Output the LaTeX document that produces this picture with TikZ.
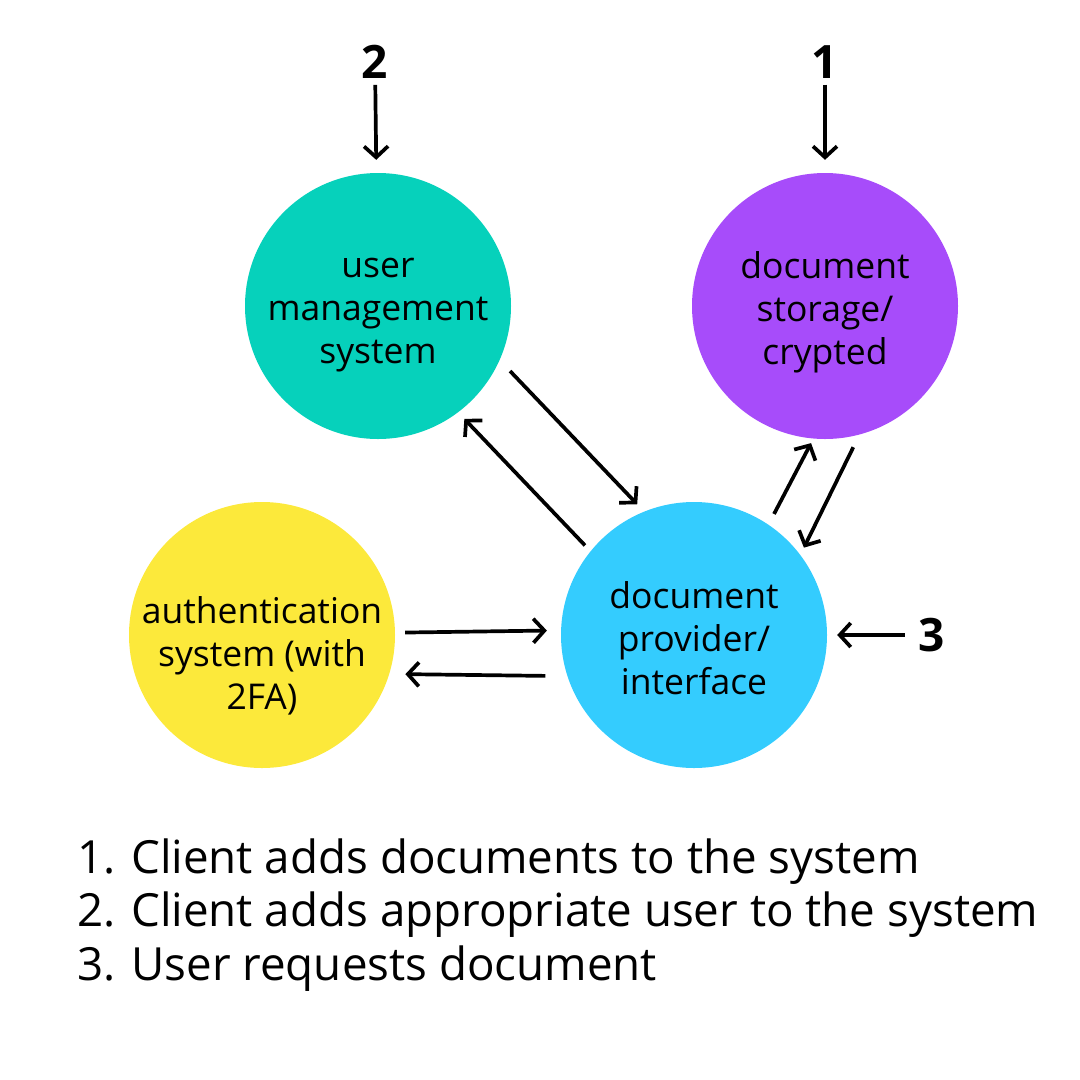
\documentclass[tikz,border=0pt]{standalone}
\usepackage{fontspec}
\setmainfont{Open Sans}
\usetikzlibrary{arrows.meta,positioning}
\definecolor{umteal}{HTML}{06D1BB}
\definecolor{dspurple}{HTML}{A74CFA}
\definecolor{auyellow}{HTML}{FCE93B}
\definecolor{dpblue}{HTML}{34CCFE}

\begin{document}
\begin{tikzpicture}[
    x=1pt, y=-1pt,
    sys/.style={circle, minimum size=266pt, inner sep=0pt},
    systext/.style={align=center, inner sep=0pt, font=\fontsize{35.5}{43}\selectfont},
    num/.style={inner sep=0pt, font=\fontsize{46}{46}\selectfont\bfseries},
    legendline/.style={anchor=base west, inner sep=0pt, font=\fontsize{45.7}{53}\selectfont},
    arrow/.style={-{Straight Barb[length=11pt, width=24pt]}, line width=3.7pt}
]
\useasboundingbox (0,0) rectangle (1080,1080);

% systems
\node[sys, fill=umteal, label={[systext, yshift=-9pt]center:{user\\management\\system}}] (users) at (378,306) {};
\node[sys, fill=dspurple, label={[systext, yshift=-6pt]center:{document\\storage/\\crypted}}] (storage) at (825,306) {};
\node[sys, fill=auyellow, label={[systext, yshift=-21pt]center:{authentication\\system (with\\2FA)}}] (auth) at (262,635) {};
\node[sys, fill=dpblue, label={[systext, yshift=-3pt]center:{document\\provider/\\interface}}] (provider) at (694,635) {};

% numbered inputs
\node[num] (n2) at (375,62) {2};
\node[num] (n1) at (825,62) {1};
\node[num] (n3) at (932,635) {3};

\draw[arrow, shorten <=6pt, shorten >=13pt] (n2) -- (users);
\draw[arrow, shorten <=6pt, shorten >=13pt] (n1) -- (storage);
\draw[arrow, shorten <=14pt, shorten >=10pt] (n3) -- (provider);

% flows
\draw[arrow, shorten <=15pt, shorten >=10pt] (users.-24.7) -- (provider.112);
\draw[arrow, shorten <=8pt, shorten >=9pt] (provider.141.9) -- (users.-53.6);
\draw[arrow, shorten <=12pt, shorten >=5pt] (provider.56) -- (storage.-95.4);
\draw[arrow, shorten <=14pt, shorten >=8pt] (storage.-75.4) -- (provider.37.3);
\draw[arrow, shorten <=10pt, shorten >=14pt] (auth.1.72) -- (provider.178.28);
\draw[arrow, shorten <=22pt, shorten >=16pt] (provider.-162.95) -- (auth.-17.05);

% legend
\node[legendline] (s1) at (77,873) {1. Client adds documents to the system};
\node[legendline] (s2) at (77,926) {2. Client adds appropriate user to the system};
\node[legendline] (s3) at (77,980) {3. User requests document};
\end{tikzpicture}
\end{document}
